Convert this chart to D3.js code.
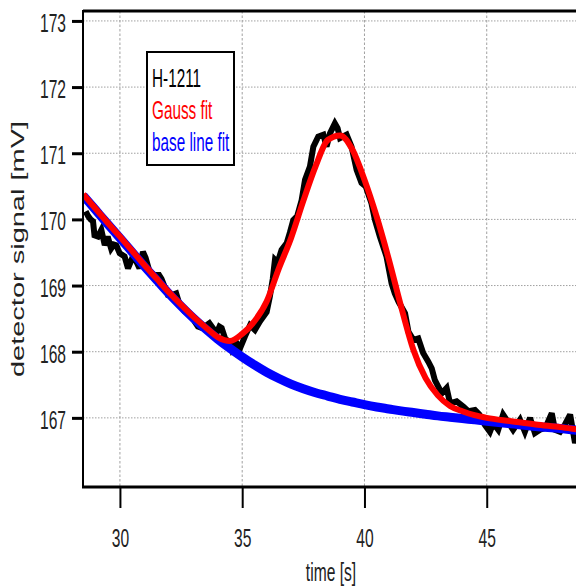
<!DOCTYPE html>
<html><head><meta charset="utf-8">
<script src="https://cdn.jsdelivr.net/npm/d3@7"></script>
<style>body{margin:0;background:#fff;} svg{display:block;}</style>
</head><body>
<svg id="chart" width="576" height="587"></svg>
<script>
// measured detector signal (time [s], signal [mV])
const timeData = [28.60,28.70,28.80,28.90,28.96,29.10,29.24,29.38,29.50,29.64,29.75,29.85,29.99,30.19,30.33,30.53,30.65,30.80,30.94,31.05,31.21,31.42,31.60,31.70,31.83,31.96,32.15,32.30,32.44,32.64,32.85,33.05,33.19,33.35,33.55,33.66,33.80,33.95,34.07,34.16,34.30,34.45,34.57,34.77,34.91,35.11,35.32,35.52,35.73,36.00,36.13,36.25,36.34,36.45,36.61,36.82,36.95,37.09,37.25,37.43,37.57,37.77,37.91,38.11,38.32,38.45,38.59,38.79,38.90,39.00,39.27,39.47,39.68,39.88,40.05,40.29,40.43,40.63,40.90,41.11,41.24,41.40,41.66,41.80,42.00,42.20,42.40,42.61,42.75,42.88,43.16,43.36,43.50,43.77,44.04,44.25,44.52,44.70,44.93,45.13,45.27,45.47,45.67,45.85,46.08,46.36,46.56,46.77,46.97,47.18,47.40,47.66,47.79,48.00,48.20,48.41,48.61,48.80,49.00];
const signalData = [170.12,170.05,170.00,169.97,169.76,169.74,169.84,169.61,169.74,169.56,169.62,169.61,169.49,169.44,169.26,169.44,169.38,169.26,169.51,169.42,169.21,169.16,169.16,169.10,168.98,168.86,168.86,168.88,168.71,168.61,168.56,168.46,168.38,168.36,168.40,168.43,168.36,168.28,168.38,168.36,168.20,168.15,168.03,168.13,168.05,168.23,168.40,168.33,168.46,168.60,168.83,169.10,169.39,169.35,169.54,169.64,169.80,169.99,170.05,170.29,170.60,170.80,171.10,171.25,171.28,171.10,171.30,171.45,171.38,171.23,171.28,171.10,170.75,170.55,170.50,170.24,169.99,169.74,169.44,169.03,168.88,168.75,168.58,168.30,168.18,168.20,167.98,167.85,167.75,167.57,167.37,167.45,167.22,167.25,167.17,167.10,167.12,167.05,166.89,166.79,166.92,166.82,167.05,166.95,166.82,166.97,166.79,167.00,166.77,166.82,166.85,167.07,166.82,166.79,166.90,167.05,166.62,166.90,166.80];

// fit curves sampled at these times
const fitTime  = [28.5,29.0,29.5,30.0,30.5,31.0,31.5,32.0,32.5,33.0,33.5,34.0,34.5,35.0,35.5,36.0,36.5,37.0,37.5,38.0,38.5,39.0,39.5,40.0,40.5,41.0,41.5,42.0,42.5,43.0,43.5,44.0,44.5,45.0,46.0,47.0,48.0,49.0,50.0];
const gaussFit = [170.38,170.165,169.95,169.74,169.525,169.31,169.105,168.90,168.71,168.53,168.37,168.22,168.16,168.27,168.46,168.76,169.26,169.72,170.28,170.80,171.20,171.27,171.06,170.60,170.04,169.39,168.68,168.03,167.60,167.34,167.18,167.10,167.04,167.00,166.95,166.90,166.86,166.81,166.77];
const baseFit  = [170.36,170.145,169.93,169.72,169.505,169.29,169.085,168.88,168.69,168.51,168.345,168.19,168.05,167.92,167.80,167.69,167.595,167.51,167.44,167.38,167.33,167.28,167.24,167.20,167.165,167.135,167.105,167.08,167.055,167.03,167.01,166.99,166.97,166.95,166.91,166.87,166.84,166.80,166.76];

const xTicks = [30,35,40,45];
const yTicks = [167,168,169,170,171,172,173];
const legendLabels = ["H-1211","Gauss fit","base line fit"];
const legendColors = ["#000000","#ff0000","#0000ff"];
const xTitle = "time [s]";
const yTitle = "detector signal [mV]";

const SX = 0.6; // horizontal condensation of the lettering
const FONT = "'Liberation Sans', Arial, sans-serif";
const svg = d3.select("#chart");
const W = 576, H = 587;
const x = d3.scaleLinear().domain([28.49, 50]).range([83, 609]);
const y = d3.scaleLinear().domain([165.955, 173.15]).range([487, 11]);

svg.append("defs").append("clipPath").attr("id","plotclip")
  .append("rect").attr("x",83).attr("y",11).attr("width",W-83).attr("height",476);

// grid
const grid = svg.append("g");
grid.selectAll("line.h").data(yTicks).join("line")
  .attr("x1",83).attr("x2",W).attr("y1",d=>y(d)).attr("y2",d=>y(d))
  .attr("stroke","#a0a0a0").attr("stroke-width",1).attr("stroke-dasharray","1.5,1.5");
grid.selectAll("line.v").data(xTicks).join("line")
  .attr("x1",d=>x(d)).attr("x2",d=>x(d)).attr("y1",11).attr("y2",487)
  .attr("stroke","#a0a0a0").attr("stroke-width",1).attr("stroke-dasharray","2.5,2");

// data lines
const plot = svg.append("g").attr("clip-path","url(#plotclip)");
const rawLine = d3.line().x((d,i)=>x(timeData[i])).y(d=>y(d));
plot.append("path").datum(signalData).attr("d",rawLine)
  .attr("fill","none").attr("stroke","#000").attr("stroke-width",6).attr("stroke-linejoin","miter").attr("stroke-miterlimit",3);
const fitLine = d3.line().x((d,i)=>x(fitTime[i])).y(d=>y(d)).curve(d3.curveMonotoneX);
plot.append("path").datum(baseFit).attr("d",fitLine)
  .attr("fill","none").attr("stroke","#0000ff").attr("stroke-width",9);
plot.append("path").datum(gaussFit).attr("d",fitLine)
  .attr("fill","none").attr("stroke","#ff0000").attr("stroke-width",6);

// frame lines
svg.append("line").attr("x1",83).attr("x2",W).attr("y1",11).attr("y2",11).attr("stroke","#000").attr("stroke-width",3);
svg.append("line").attr("x1",83).attr("x2",83).attr("y1",10).attr("y2",488).attr("stroke","#000").attr("stroke-width",2);
svg.append("line").attr("x1",82).attr("x2",W).attr("y1",487).attr("y2",487).attr("stroke","#000").attr("stroke-width",3);

// axes
const yAxis = svg.append("g").attr("transform","translate(83,0)")
  .call(d3.axisLeft(y).tickValues(yTicks).tickSize(11).tickFormat(d3.format("d")));
yAxis.select(".domain").remove();
yAxis.selectAll(".tick line").attr("stroke","#000").attr("stroke-width",3);
yAxis.selectAll(".tick text").attr("x",0).attr("dy",null)
  .attr("transform","translate(-17,10.5) scale("+SX+",1)")
  .attr("font-family",FONT).attr("font-size",26).attr("fill","#222").attr("text-anchor","end");

const xAxis = svg.append("g").attr("transform","translate(0,487)")
  .call(d3.axisBottom(x).tickValues(xTicks).tickSize(21).tickFormat(d3.format("d")));
xAxis.select(".domain").remove();
xAxis.selectAll(".tick line").attr("stroke","#000").attr("stroke-width",2);
xAxis.selectAll(".tick text").attr("y",0).attr("dy",null)
  .attr("transform","translate(0,60) scale("+SX+",1)")
  .attr("font-family",FONT).attr("font-size",26).attr("fill","#222").attr("text-anchor","middle");

// titles
svg.append("text").text(xTitle)
  .attr("transform","translate(331,581) scale("+SX+",1)")
  .attr("text-anchor","middle").attr("font-family",FONT).attr("font-size",26).attr("fill","#222");
svg.append("text").text(yTitle)
  .attr("transform","translate(23.5,249) scale(0.62,1) rotate(-90)")
  .attr("text-anchor","middle").attr("font-family",FONT).attr("font-size",29).attr("fill","#222");

// legend
const lg = svg.append("g");
lg.append("rect").attr("x",147).attr("y",52).attr("width",87).attr("height",113)
  .attr("fill","#fff").attr("stroke","#000").attr("stroke-width",2);
lg.selectAll("text").data(legendLabels).join("text")
  .text(d=>d)
  .attr("transform",(d,i)=>"translate(152,"+(86.5+i*32)+") scale("+SX+",1)")
  .attr("font-family",FONT).attr("font-size",25.5)
  .attr("fill",(d,i)=>legendColors[i]);
</script>
</body></html>
